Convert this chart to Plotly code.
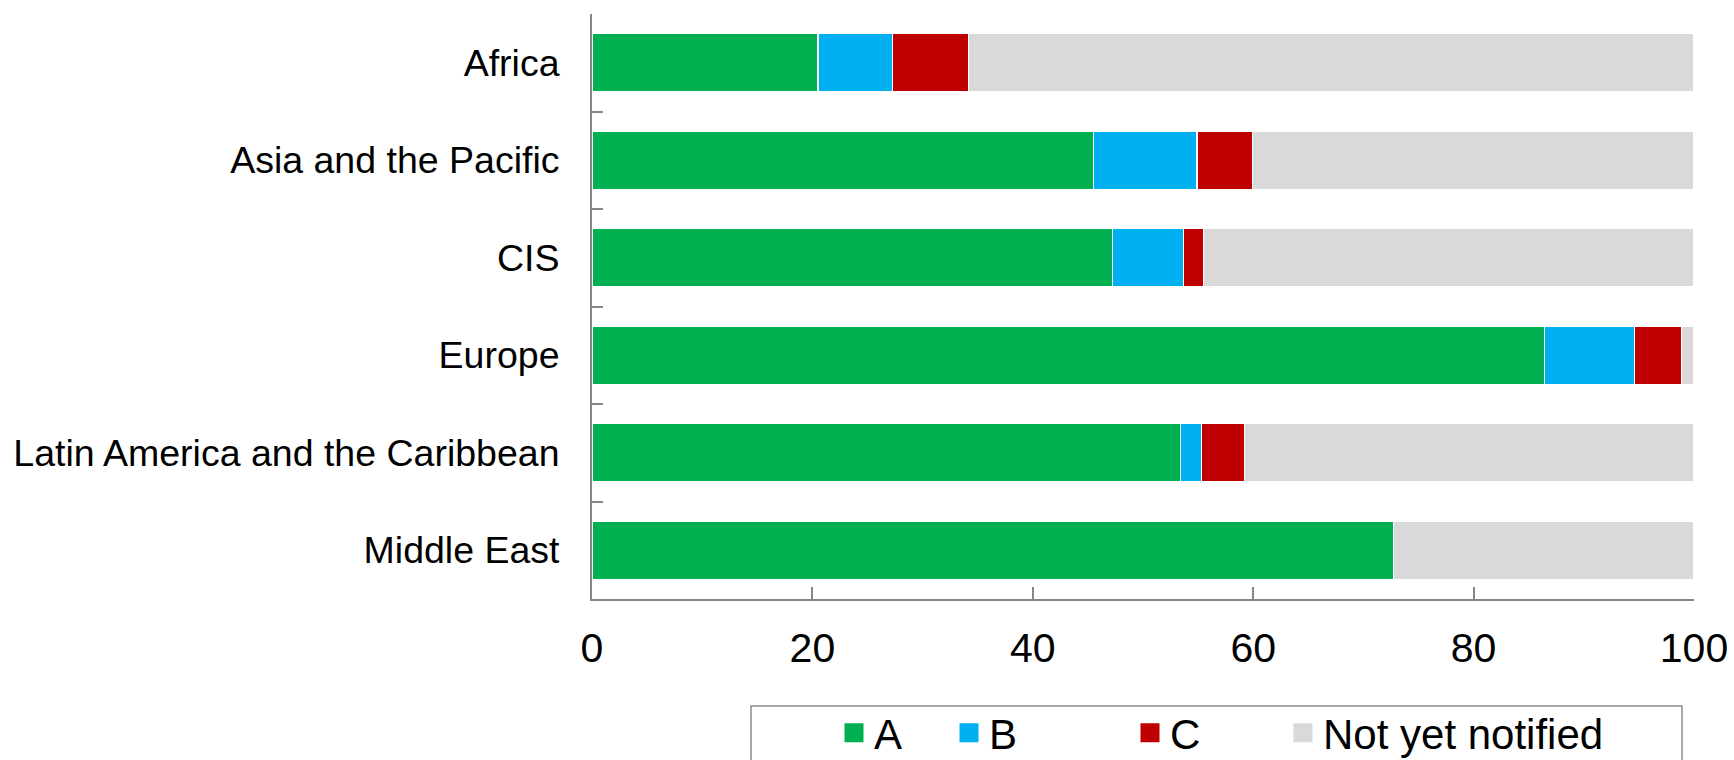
import plotly.graph_objects as go

# Share of countries by notification status, per region (%)
regions = ["Africa", "Asia and the Pacific", "CIS", "Europe",
           "Latin America and the Caribbean", "Middle East"]
cat_a = [20.5, 45.5, 47.2, 86.4, 53.4, 72.7]
cat_b = [6.8, 9.4, 6.5, 8.2, 1.9, 0.0]
cat_c = [6.9, 5.0, 1.8, 4.3, 3.9, 0.0]
not_notified = [65.8, 40.1, 44.5, 1.1, 40.8, 27.3]

series_names = ["A", "B", "C", "Not yet notified"]
series_values = [cat_a, cat_b, cat_c, not_notified]
colors = ["#00B050", "#00B0F0", "#C00000", "#D9D9D9"]
x_ticks = [0, 20, 40, 60, 80, 100]

FONT = "Liberation Sans, Arial, sans-serif"
AXIS_GREY = "#878787"

W, H = 1734, 760
L, R, T, B = 592, 40, 14, 161
plot_w = W - L - R
plot_h = H - T - B


def px_to_paper_x(px):
    return (px - L) / plot_w


def px_to_paper_y(py):
    return (H - B - py) / plot_h


fig = go.Figure()

for name, vals, col in zip(series_names, series_values, colors):
    fig.add_trace(go.Bar(
        y=regions, x=vals, name=name, orientation="h",
        marker=dict(color=col, line=dict(color="white", width=1.2)),
        showlegend=False,
    ))

# One legend per entry so each key sits at its own place in the box;
# positioned in container coordinates so they do not push the margins
legend_keys = ["legend", "legend2", "legend3", "legend4"]
legend_px = [834, 949, 1130, 1283]
for name, col, lk in zip(series_names, colors, legend_keys):
    fig.add_trace(go.Scatter(
        x=[None], y=[None], mode="markers", name=name, legend=lk,
        marker=dict(symbol="square", size=16, color=col,
                    line=dict(color=col, width=3)),
        showlegend=True,
    ))

legend_common = dict(
    orientation="h", yanchor="middle", xanchor="left",
    xref="container", yref="container",
    y=(H - 733) / H, bgcolor="rgba(0,0,0,0)", borderwidth=0,
    font=dict(family=FONT, size=42, color="black"),
)
layout_legends = {}
for lk, lx in zip(legend_keys, legend_px):
    layout_legends[lk] = dict(legend_common, x=lx / W)

fig.update_layout(
    width=W, height=H,
    margin=dict(l=L, r=R, t=T, b=B, pad=0, autoexpand=False),
    paper_bgcolor="white", plot_bgcolor="white",
    barmode="stack", bargap=0.4,
    font=dict(family=FONT, color="black"),
    **layout_legends,
)

fig.update_xaxes(
    range=[0, 100], tickvals=x_ticks, ticktext=[str(v) for v in x_ticks],
    showgrid=False, zeroline=False,
    showline=True, linecolor=AXIS_GREY, linewidth=2,
    ticks="inside", ticklen=12, tickwidth=2, tickcolor=AXIS_GREY,
    tickfont=dict(family=FONT, size=41, color="black"),
    ticklabelstandoff=12,
)
fig.update_yaxes(
    categoryorder="array", categoryarray=regions, autorange="reversed",
    showgrid=False, zeroline=False,
    showline=True, linecolor=AXIS_GREY, linewidth=2,
    ticks="inside", tickson="boundaries", ticklen=11, tickwidth=2,
    tickcolor=AXIS_GREY,
    tickfont=dict(family=FONT, size=37.5, color="black"),
    ticklabelstandoff=23,
)

# Frame around the legend, running off the bottom edge
fig.add_shape(
    type="rect", xref="paper", yref="paper",
    x0=px_to_paper_x(751), x1=px_to_paper_x(1682),
    y0=px_to_paper_y(706), y1=px_to_paper_y(800),
    line=dict(color="#8c8c8c", width=1.5), fillcolor="rgba(0,0,0,0)",
)

fig.write_html("out.html")
